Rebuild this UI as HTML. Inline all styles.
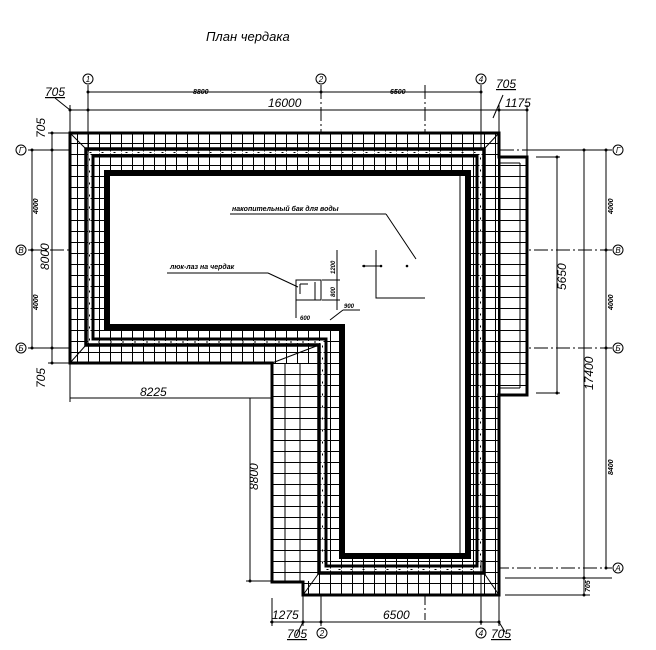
<!DOCTYPE html>
<html><head><meta charset="utf-8"><style>
html,body{margin:0;padding:0;background:#fff}
svg{display:block}
text{font-family:"Liberation Sans",sans-serif;font-style:italic;fill:#000}
</style></head><body>
<svg width="656" height="650" viewBox="0 0 656 650" xmlns="http://www.w3.org/2000/svg">
<defs>
<pattern id="g" x="0" y="0" width="11" height="11" patternUnits="userSpaceOnUse">
<rect width="11" height="11" fill="#fff"/>
<path d="M0.5 0V11M0 0.5H11" stroke="#000" stroke-width="1"/>
</pattern>
<pattern id="h" x="0" y="0" width="11" height="11" patternUnits="userSpaceOnUse">
<rect width="11" height="11" fill="#fff"/>
<path d="M0 0.5H11" stroke="#000" stroke-width="1"/>
</pattern>
</defs>
<text x="206" y="41" font-size="13">План  чердака</text>

<g stroke="#000" stroke-width="1" stroke-dasharray="14,3,2,3" fill="none">
<line x1="28" y1="250" x2="612" y2="250"/>
<line x1="28" y1="348" x2="612" y2="348"/>
<line x1="500" y1="150" x2="612" y2="150"/>
<line x1="28" y1="150" x2="70" y2="150"/>
<line x1="495" y1="568" x2="612" y2="568"/>
<line x1="321" y1="85" x2="321" y2="625"/>
<line x1="425" y1="85" x2="425" y2="620"/>
</g>

<path fill="url(#g)" fill-rule="evenodd" d="M70 133H499V595H303V582H272V363H70Z M107 173H468V556H342V327H107Z"/>
<rect x="273" y="364" width="44" height="217" fill="url(#h)"/>
<path d="M285 364V581 M300 364V581" stroke="#000" stroke-width="1"/>
<rect x="500" y="158" width="26" height="236" fill="url(#h)"/>
<path d="M500 158V394 M520 163V388 M500 163H520 M500 388H520" stroke="#000" stroke-width="1" fill="none"/>
<path d="M70 133H499V157H527V395H499V595H303V582H272V363H70Z" fill="none" stroke="#000" stroke-width="3"/>
<line x1="499" y1="157" x2="499" y2="395" stroke="#000" stroke-width="2"/>
<path d="M86 149H484V573H319V345H86Z" fill="none" stroke="#000" stroke-width="3.5"/>
<path d="M93 156H477V566H326V339H93Z" fill="none" stroke="#000" stroke-width="3"/>
<path d="M89.5 152.5H480.5V569.5H322.5V342H89.5Z" fill="none" stroke="#fff" stroke-width="2"/>
<path d="M89.5 152.5H480.5V569.5H322.5V342H89.5Z" fill="none" stroke="#000" stroke-width="1" stroke-dasharray="2,10"/>
<path d="M107 173H468V556H342V327H107Z" fill="#fff" stroke="#000" stroke-width="6"/>
<line x1="460" y1="176" x2="460" y2="553" stroke="#000" stroke-width="1"/>
<g stroke="#000" stroke-width="1">
<line x1="70" y1="133" x2="86" y2="149"/><line x1="499" y1="133" x2="484" y2="149"/>
<line x1="70" y1="363" x2="86" y2="345"/><line x1="303" y1="595" x2="319" y2="573"/>
<line x1="499" y1="595" x2="484" y2="573"/><line x1="272" y1="363" x2="319" y2="345"/>
</g>

<g stroke="#000" stroke-width="1">
<line x1="88" y1="85" x2="88" y2="150"/>
<line x1="481" y1="85" x2="481" y2="150"/>
<line x1="481" y1="560" x2="481" y2="625"/>
<line x1="88" y1="92" x2="481" y2="92"/>
<line x1="70" y1="110" x2="527" y2="110"/>
<line x1="70" y1="105" x2="70" y2="133"/>
<line x1="499" y1="105" x2="499" y2="133"/>
<line x1="527" y1="105" x2="527" y2="157"/>
<line x1="55" y1="98" x2="70" y2="110"/>
<line x1="493" y1="118" x2="503" y2="95"/>
<line x1="32" y1="150" x2="32" y2="348"/>
<line x1="52" y1="133" x2="52" y2="363"/>
<line x1="28" y1="150" x2="70" y2="150"/>
<line x1="28" y1="348" x2="70" y2="348"/>
<line x1="48" y1="133" x2="70" y2="133"/>
<line x1="48" y1="363" x2="70" y2="363"/>
<line x1="557" y1="157" x2="557" y2="393"/>
<line x1="536" y1="157" x2="560" y2="157"/>
<line x1="536" y1="393" x2="560" y2="393"/>
<line x1="584" y1="150" x2="584" y2="595"/>
<line x1="606" y1="150" x2="606" y2="568"/>
<line x1="527" y1="150" x2="612" y2="150"/>
<line x1="505" y1="578" x2="612" y2="578"/>
<line x1="505" y1="595" x2="590" y2="595"/>
<line x1="70" y1="398" x2="272" y2="398"/>
<line x1="70" y1="363" x2="70" y2="402"/>
<line x1="250" y1="398" x2="250" y2="581"/>
<line x1="246" y1="581" x2="272" y2="581"/>
<line x1="270" y1="622" x2="499" y2="622"/>
<line x1="272" y1="598" x2="272" y2="626"/>
<line x1="303" y1="595" x2="303" y2="626"/>
<line x1="321" y1="595" x2="321" y2="626"/>
<line x1="499" y1="595" x2="499" y2="626"/>
<line x1="303" y1="622" x2="296" y2="636"/>
<line x1="499" y1="622" x2="505" y2="632"/>
</g>
<g fill="#000">
<circle cx="88" cy="92" r="1.5"/><circle cx="321" cy="92" r="1.5"/><circle cx="481" cy="92" r="1.5"/>
<circle cx="88" cy="110" r="1.5"/><circle cx="70" cy="110" r="1.5"/><circle cx="499" cy="110" r="1.5"/><circle cx="527" cy="110" r="1.5"/>
<circle cx="32" cy="150" r="1.5"/><circle cx="32" cy="250" r="1.5"/><circle cx="32" cy="348" r="1.5"/>
<circle cx="52" cy="133" r="1.5"/><circle cx="52" cy="363" r="1.5"/><circle cx="52" cy="150" r="1.5"/><circle cx="52" cy="348" r="1.5"/>
<circle cx="606" cy="150" r="1.5"/><circle cx="606" cy="250" r="1.5"/><circle cx="606" cy="348" r="1.5"/><circle cx="606" cy="568" r="1.5"/>
<circle cx="584" cy="150" r="1.5"/><circle cx="584" cy="578" r="1.5"/><circle cx="584" cy="595" r="1.5"/>
<circle cx="557" cy="157" r="1.5"/><circle cx="557" cy="393" r="1.5"/>
<circle cx="272" cy="398" r="1.5"/><circle cx="250" cy="581" r="1.5"/>
<circle cx="272" cy="622" r="1.5"/><circle cx="303" cy="622" r="1.5"/><circle cx="321" cy="622" r="1.5"/><circle cx="481" cy="622" r="1.5"/><circle cx="499" cy="622" r="1.5"/>
</g>

<g fill="#fff" stroke="#000" stroke-width="1">
<circle cx="88" cy="79" r="5"/><circle cx="321" cy="79" r="5"/><circle cx="481" cy="79" r="5"/>
<circle cx="21" cy="150" r="5"/><circle cx="21" cy="250" r="5"/><circle cx="21" cy="348" r="5"/>
<circle cx="618" cy="150" r="5"/><circle cx="618" cy="250" r="5"/><circle cx="618" cy="348" r="5"/><circle cx="618" cy="568" r="5"/>
<circle cx="322" cy="633" r="5"/><circle cx="481" cy="633" r="5"/>
</g>
<g font-size="8" text-anchor="middle" font-style="normal">
<text x="88" y="82">1</text><text x="321" y="82">2</text><text x="481" y="82">4</text>
<text x="21" y="153">Г</text><text x="21" y="253">В</text><text x="21" y="351">Б</text>
<text x="618" y="153">Г</text><text x="618" y="253">В</text><text x="618" y="351">Б</text><text x="618" y="571">А</text>
<text x="322" y="636">2</text><text x="481" y="636">4</text>
</g>

<g font-size="12">
<text x="45" y="96" text-decoration="underline">705</text>
<text x="268" y="107">16000</text>
<text x="496" y="88" text-decoration="underline">705</text>
<text x="505" y="107">1175</text>
<text x="140" y="396">8225</text>
<text x="383" y="619">6500</text>
<text x="272" y="619">1275</text>
<text x="287" y="638" text-decoration="underline">705</text>
<text x="491" y="638" text-decoration="underline">705</text>
<text transform="translate(49,270) rotate(-90)">8000</text>
<text transform="translate(566,290) rotate(-90)">5650</text>
<text transform="translate(593,390) rotate(-90)">17400</text>
<text transform="translate(258,490) rotate(-90)">8800</text>
<text transform="translate(45,138) rotate(-90)">705</text>
<text transform="translate(45,388) rotate(-90)">705</text>
</g>
<g font-size="7" font-weight="bold">
<text x="193" y="94">8800</text>
<text x="390" y="94">6500</text>
<text transform="translate(38,214) rotate(-90)">4000</text>
<text transform="translate(38,310) rotate(-90)">4000</text>
<text transform="translate(613,214) rotate(-90)">4000</text>
<text transform="translate(613,310) rotate(-90)">4000</text>
<text transform="translate(613,475) rotate(-90)">8400</text>
<text transform="translate(590,592) rotate(-90)">705</text>
</g>

<text x="232" y="211" font-size="7" font-weight="bold">накопительный бак для воды</text>
<line x1="230" y1="214" x2="386" y2="214" stroke="#000"/>
<line x1="386" y1="214" x2="416" y2="259" stroke="#000"/>
<circle cx="407" cy="266" r="1.3" fill="#000"/>
<path d="M376 250V298H425" stroke="#000" fill="none"/>
<path d="M362 266H382" stroke="#000"/>
<circle cx="364" cy="266" r="1.3" fill="#000"/><circle cx="381" cy="266" r="1.3" fill="#000"/>
<text x="170" y="269" font-size="7" font-weight="bold">люк-лаз на чердак</text>
<line x1="167" y1="273" x2="268" y2="273" stroke="#000"/>
<line x1="268" y1="273" x2="298" y2="287" stroke="#000"/>
<g stroke="#000" fill="none">
<rect x="296" y="280" width="25" height="20"/>
<path d="M300 284H308M300 284V294M315 282V300"/>
<line x1="296" y1="300" x2="296" y2="318"/>
<line x1="337" y1="250" x2="337" y2="310"/>
<line x1="322" y1="280" x2="340" y2="280"/>
<line x1="322" y1="300" x2="340" y2="300"/>
<line x1="330" y1="320" x2="343" y2="310"/>
<line x1="343" y1="310" x2="360" y2="310"/>
</g>
<g font-size="6" font-weight="bold">
<text transform="translate(335,274) rotate(-90)">1200</text>
<text transform="translate(335,297) rotate(-90)">800</text>
<text x="344" y="308">900</text>
<text x="300" y="320">600</text>
</g>
</svg>
</body></html>
